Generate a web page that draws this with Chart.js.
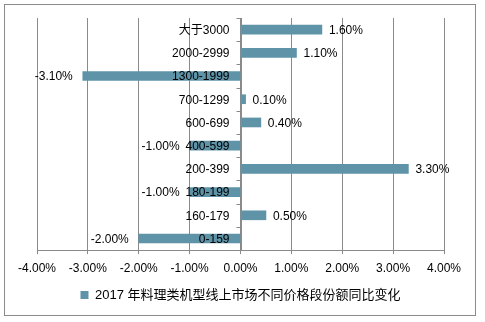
<!DOCTYPE html>
<html>
<head>
<meta charset="utf-8">
<script src="https://cdn.jsdelivr.net/npm/chart.js@4/dist/chart.umd.min.js"></script>
<style>
  html, body { margin: 0; padding: 0; background: #fff; }
  #wrap { width: 485px; height: 322px; }
</style>
</head>
<body>
<div id="wrap"><canvas id="c" width="485" height="322"></canvas></div>
<script>
// Price bands (top to bottom) and year-on-year share change, in percent
const priceBands = ['大于3000', '2000-2999', '1300-1999', '700-1299', '600-699',
                    '400-599', '200-399', '180-199', '160-179', '0-159'];
const shareChange = [1.60, 1.10, -3.10, 0.10, 0.40, -1.00, 3.30, -1.00, 0.50, -2.00];
const seriesName = '2017 年料理类机型线上市场不同价格段份额同比变化';
const axisMin = -4, axisMax = 4, axisStep = 1;

const gridColor = '#8a8a8a';
const barColor = '#5e93a8';
const fontFamily = "'Liberation Sans', 'Noto Sans CJK SC', sans-serif";

Chart.defaults.font.family = fontFamily;
Chart.defaults.font.size = 12;
Chart.defaults.color = '#000';

const pct = v => Number(v).toFixed(2) + '%';

// Outer frame of the chart
const framePlugin = {
  id: 'frame',
  beforeDraw(chart) {
    const ctx = chart.ctx;
    ctx.save();
    ctx.fillStyle = '#fff';
    ctx.fillRect(0, 0, chart.width, chart.height);
    ctx.strokeStyle = '#8c8c8c';
    ctx.lineWidth = 1;
    ctx.strokeRect(4.5, 4.5, 471, 311);
    ctx.restore();
  }
};

// Category axis drawn on the zero line: tick marks between bands and band names on the left
const zeroAxis = {
  id: 'zeroAxis',
  afterDatasetsDraw(chart) {
    const ctx = chart.ctx;
    const x0 = Math.round(chart.scales.x.getPixelForValue(0)) + 0.5;
    const ys = chart.scales.y;
    ctx.save();
    ctx.strokeStyle = gridColor;
    ctx.lineWidth = 1;
    ctx.beginPath();
    for (let i = 0; i <= priceBands.length; i++) {
      const y = Math.round(ys.getPixelForValue(i - 0.5)) + 0.5;
      ctx.moveTo(x0 - 5, y);
      ctx.lineTo(x0, y);
    }
    ctx.moveTo(x0, ys.top);
    ctx.lineTo(x0, ys.bottom);
    ctx.stroke();
    ctx.font = '12px ' + fontFamily;
    ctx.fillStyle = '#000';
    ctx.textAlign = 'right';
    ctx.textBaseline = 'middle';
    ys.getLabels().forEach((lab, i) => {
      ctx.fillText(lab, x0 - 12, ys.getPixelForValue(i) + 1);
    });
    ctx.restore();
  }
};

// Value labels at the end of each bar
const valueLabels = {
  id: 'valueLabels',
  afterDatasetsDraw(chart) {
    const ctx = chart.ctx;
    const meta = chart.getDatasetMeta(0);
    ctx.save();
    ctx.font = '12px ' + fontFamily;
    ctx.fillStyle = '#000';
    ctx.textBaseline = 'middle';
    meta.data.forEach((bar, i) => {
      const v = chart.data.datasets[0].data[i];
      if (v >= 0) {
        ctx.textAlign = 'left';
        ctx.fillText(pct(v), bar.x + 7, bar.y + 1);
      } else {
        ctx.textAlign = 'right';
        ctx.fillText(pct(v), bar.x - 10, bar.y + 1);
      }
    });
    ctx.restore();
  }
};

new Chart(document.getElementById('c'), {
  type: 'bar',
  data: {
    labels: priceBands,
    datasets: [{
      label: seriesName,
      data: shareChange,
      backgroundColor: barColor,
      borderWidth: 0,
      barThickness: 9
    }]
  },
  options: {
    indexAxis: 'y',
    responsive: false,
    animation: false,
    layout: { padding: { top: 18, left: 37, right: 41, bottom: 10.5 } },
    scales: {
      x: {
        min: axisMin,
        max: axisMax,
        ticks: {
          stepSize: axisStep,
          callback: v => pct(v),
          padding: 7,
          maxRotation: 0,
          font: { size: 12 }
        },
        grid: { color: gridColor, tickLength: 4, drawTicks: true },
        border: { color: gridColor }
      },
      y: {
        display: false
      }
    },
    plugins: {
      legend: {
        position: 'bottom',
        labels: {
          boxWidth: 8,
          boxHeight: 8,
          padding: 6,
          font: { size: 13 }
        }
      },
      tooltip: { enabled: false }
    }
  },
  plugins: [framePlugin, valueLabels, zeroAxis]
});
</script>
</body>
</html>
